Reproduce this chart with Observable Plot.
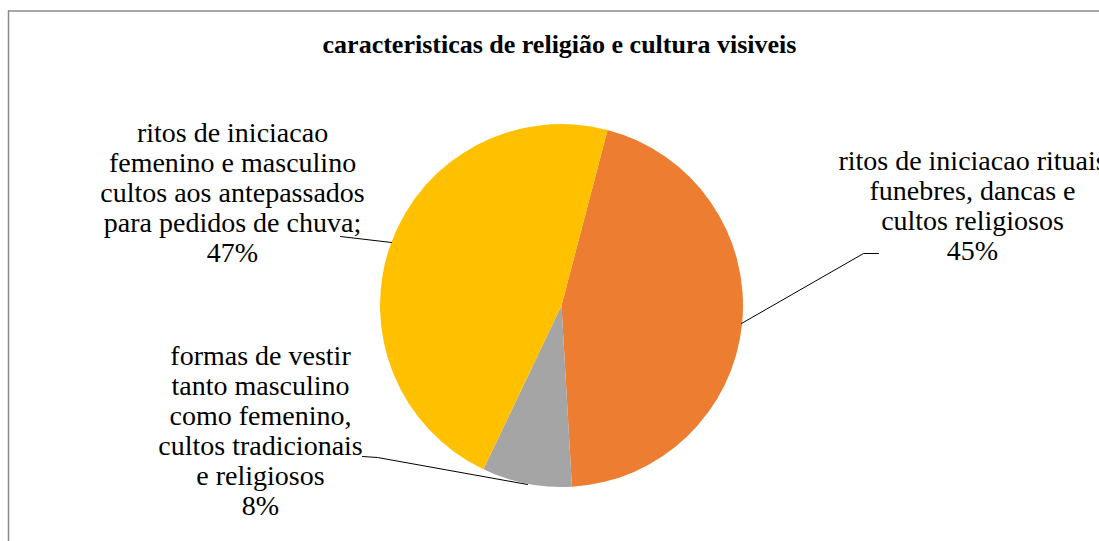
<!DOCTYPE html>
<html>
<head>
<meta charset="utf-8">
<script src="https://cdn.jsdelivr.net/npm/d3@7"></script>
<script src="https://cdn.jsdelivr.net/npm/@observablehq/plot@0.6"></script>
<style>
  html, body { margin: 0; padding: 0; background: #fff; }
  #chart svg { display: block; }
  #chart svg text { font-family: "Liberation Serif", "Times New Roman", serif; }
</style>
</head>
<body>
<div id="chart"></div>
<script>
// ---- data ----
const title = "caracteristicas de religião e cultura visiveis";
const categories = [
  "ritos de iniciacao rituais funebres, dancas e cultos religiosos",
  "formas de vestir tanto masculino como femenino, cultos tradicionais e religiosos",
  "ritos de iniciacao femenino e masculino cultos aos antepassados para pedidos de chuva;"
];
const values = [45, 8, 47];
const colors = ["#ED7D31", "#A5A5A5", "#FFC000"];
const labelLines = [
  ["ritos de iniciacao rituais", "funebres, dancas e", "cultos religiosos"],
  ["formas de vestir", "tanto masculino", "como femenino,", "cultos tradicionais", "e religiosos"],
  ["ritos de iniciacao", "femenino e masculino", "cultos aos antepassados", "para pedidos de chuva;"]
];

// ---- layout (pixel space) ----
const W = 1099, H = 541;
const PIE = { cx: 561.5, cy: 305.5, r: 181.5, startDeg: 14.7 };
const labelPos = [ { x: 972, y: 148 }, { x: 260, y: 343 }, { x: 232, y: 120 } ];
const leaders = [
  [[741, 323], [863, 253], [878, 253]],
  [[362, 456], [377, 457], [527, 484]],
  [[340, 236], [391, 242]]
];
const titlePos = { x: 559, y: 44.5 };
const SERIF = "Liberation Serif";

const colorScale = Plot.scale({ color: { type: "ordinal", domain: categories, range: colors } });

const labelData = categories.map((c, i) => ({
  category: c,
  x: labelPos[i].x,
  y: labelPos[i].y,
  text: labelLines[i].join("\n") + "\n" + values[i] + "%"
}));

const leaderData = leaders.flatMap((pts, i) => pts.map(([x, y]) => ({ category: categories[i], x, y })));

function pieMark(index, scales) {
  const cx = scales.x(PIE.cx), cy = scales.y(PIE.cy);
  const r = scales.x(PIE.cx + PIE.r) - cx;
  const a0 = PIE.startDeg * Math.PI / 180;
  const arcs = d3.pie().sort(null).value(d => d.value).startAngle(a0).endAngle(a0 + 2 * Math.PI)(
    categories.map((c, i) => ({ category: c, value: values[i] }))
  );
  const arc = d3.arc().innerRadius(0).outerRadius(r);
  const g = d3.create("svg:g").attr("transform", `translate(${cx},${cy})`);
  g.selectAll("path").data(arcs).join("path")
    .attr("d", arc)
    .attr("fill", d => colorScale.apply(d.data.category))
    .attr("stroke", "none");
  return g.node();
}

const chart = Plot.plot({
  width: W,
  height: H,
  margin: 0,
  x: { domain: [0, W], range: [0, W], axis: null },
  y: { domain: [0, H], range: [0, H], axis: null },
  style: { background: "#fff", overflow: "hidden" },
  marks: [
    Plot.ruleY([10.5], { x1: 8, x2: W, stroke: "#8a8a8a", strokeWidth: 1.5 }),
    Plot.ruleX([8], { y1: 10.5, y2: H, stroke: "#8a8a8a", strokeWidth: 1.5 }),
    pieMark,
    Plot.line(leaderData, { x: "x", y: "y", z: "category", stroke: "#000", strokeWidth: 1, curve: "linear" }),
    Plot.text(labelData, {
      x: "x", y: "y", text: "text",
      fontSize: 28, fontFamily: SERIF, lineHeight: 1.07, lineAnchor: "top",
      textAnchor: "middle", fill: "#000"
    }),
    Plot.text([title], {
      x: () => titlePos.x, y: () => titlePos.y, text: d => d,
      fontSize: 26, fontWeight: "bold", fontFamily: SERIF, textAnchor: "middle", lineAnchor: "middle", fill: "#000"
    })
  ]
});

document.getElementById("chart").appendChild(chart);
</script>
</body>
</html>
